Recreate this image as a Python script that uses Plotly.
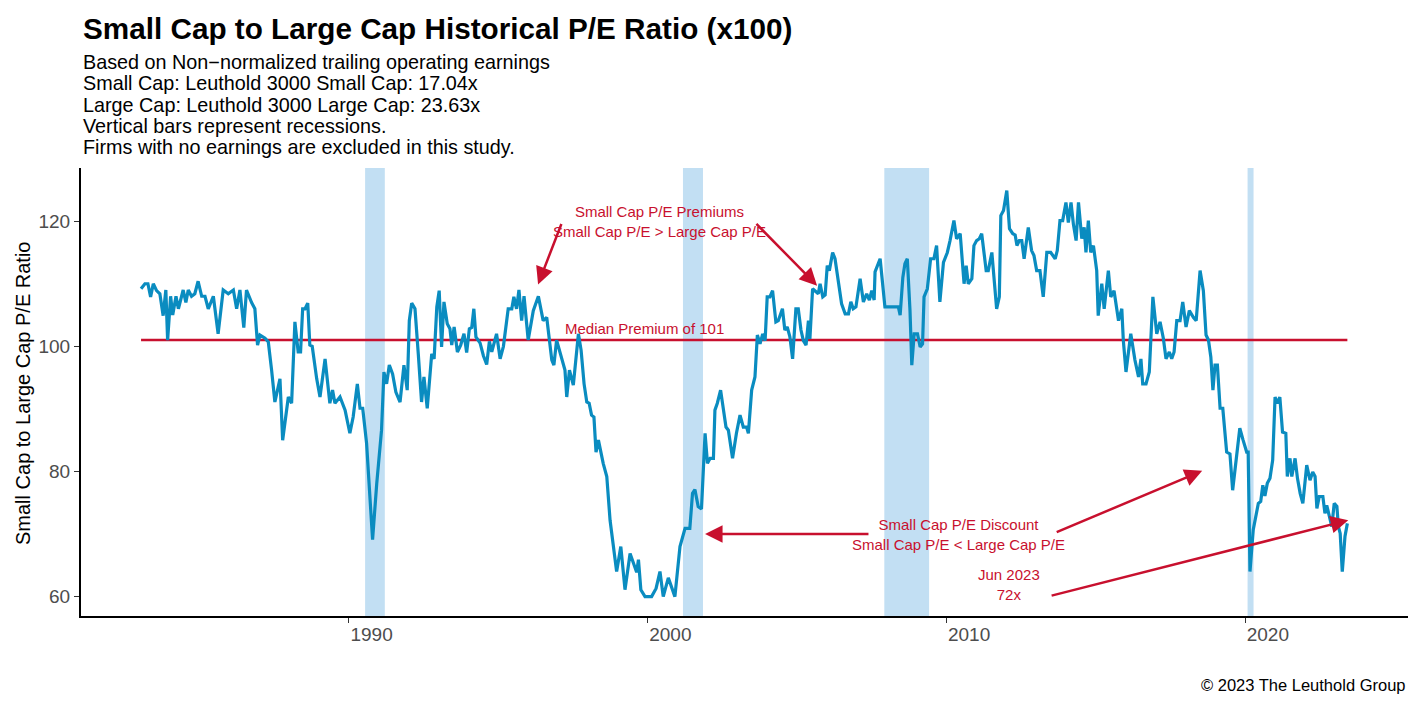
import plotly.graph_objects as go

# DATA (decimal year, ratio x100)
years = [
    1983.04, 1983.17, 1983.27, 1983.36, 1983.45, 1983.56, 1983.67, 1983.78, 1983.87, 1983.93,
    1984.03, 1984.10, 1984.21, 1984.29, 1984.45, 1984.54, 1984.62, 1984.73, 1984.84, 1984.95,
    1985.07, 1985.18, 1985.29, 1985.46, 1985.62, 1985.79, 1985.96, 1986.13, 1986.24, 1986.35,
    1986.48, 1986.57, 1986.74, 1986.85, 1986.94, 1987.02, 1987.19, 1987.30, 1987.41, 1987.52,
    1987.69, 1987.78, 1987.97, 1988.08, 1988.19, 1988.30, 1988.38, 1988.45, 1988.53, 1988.62,
    1988.69, 1988.77, 1988.92, 1989.03, 1989.20, 1989.36, 1989.45, 1989.53, 1989.70, 1989.87,
    1990.03, 1990.14, 1990.28, 1990.37, 1990.46, 1990.59, 1990.79, 1990.93, 1991.09, 1991.17,
    1991.26, 1991.35, 1991.46, 1991.57, 1991.71, 1991.84, 1991.95, 1992.02, 1992.10, 1992.21,
    1992.32, 1992.43, 1992.51, 1992.62, 1992.77, 1992.85, 1992.94, 1993.02, 1993.10, 1993.18,
    1993.29, 1993.38, 1993.44, 1993.52, 1993.63, 1993.74, 1993.85, 1993.94, 1994.03, 1994.11,
    1994.18, 1994.25, 1994.39, 1994.50, 1994.61, 1994.70, 1994.78, 1994.94, 1995.06, 1995.17,
    1995.33, 1995.45, 1995.52, 1995.61, 1995.69, 1995.78, 1995.86, 1996.00, 1996.17, 1996.34,
    1996.50, 1996.62, 1996.79, 1996.86, 1996.95, 1997.12, 1997.23, 1997.29, 1997.38, 1997.51,
    1997.68, 1997.77, 1997.87, 1997.96, 1998.04, 1998.12, 1998.20, 1998.27, 1998.35, 1998.51,
    1998.63, 1998.74, 1998.85, 1998.96, 1999.10, 1999.24, 1999.41, 1999.54, 1999.63, 1999.69,
    1999.77, 1999.91, 2000.13, 2000.28, 2000.41, 2000.52, 2000.69, 2000.91, 2001.08, 2001.25,
    2001.41, 2001.50, 2001.58, 2001.69, 2001.80, 2001.92, 2002.00, 2002.09, 2002.20, 2002.25,
    2002.33, 2002.44, 2002.53, 2002.62, 2002.70, 2002.84, 2002.97, 2003.09, 2003.20, 2003.31,
    2003.37, 2003.48, 2003.59, 2003.67, 2003.76, 2003.85, 2003.93, 2004.00, 2004.09, 2004.18,
    2004.29, 2004.37, 2004.51, 2004.59, 2004.67, 2004.76, 2004.85, 2004.96, 2005.04, 2005.13,
    2005.21, 2005.30, 2005.38, 2005.43, 2005.52, 2005.60, 2005.71, 2005.77, 2005.86, 2005.94,
    2006.01, 2006.08, 2006.19, 2006.27, 2006.38, 2006.49, 2006.61, 2006.72, 2006.80, 2006.88,
    2006.97, 2007.11, 2007.22, 2007.33, 2007.42, 2007.50, 2007.58, 2007.61, 2007.78, 2007.87,
    2007.94, 2008.11, 2008.39, 2008.45, 2008.54, 2008.61, 2008.69, 2008.78, 2008.84, 2008.92,
    2009.03, 2009.12, 2009.20, 2009.25, 2009.36, 2009.47, 2009.58, 2009.67, 2009.78, 2009.90,
    2010.03, 2010.12, 2010.25, 2010.34, 2010.46, 2010.59, 2010.66, 2010.73, 2010.85, 2010.92,
    2011.01, 2011.10, 2011.18, 2011.33, 2011.40, 2011.52, 2011.59, 2011.68, 2011.77, 2011.82,
    2011.91, 2012.02, 2012.11, 2012.22, 2012.30, 2012.36, 2012.44, 2012.52, 2012.60, 2012.74,
    2012.85, 2012.93, 2013.02, 2013.13, 2013.24, 2013.36, 2013.49, 2013.64, 2013.71, 2013.80,
    2013.89, 2014.00, 2014.08, 2014.17, 2014.25, 2014.34, 2014.42, 2014.53, 2014.61, 2014.67,
    2014.75, 2014.83, 2014.92, 2015.03, 2015.08, 2015.20, 2015.28, 2015.42, 2015.50, 2015.61,
    2015.76, 2015.87, 2015.92, 2016.01, 2016.17, 2016.31, 2016.43, 2016.51, 2016.57, 2016.68,
    2016.79, 2016.91, 2017.04, 2017.15, 2017.26, 2017.35, 2017.46, 2017.54, 2017.62, 2017.71,
    2017.82, 2017.91, 2018.02, 2018.13, 2018.27, 2018.36, 2018.49, 2018.60, 2018.69, 2018.77,
    2018.85, 2018.92, 2018.99, 2019.07, 2019.16, 2019.25, 2019.38, 2019.49, 2019.58, 2019.69,
    2019.82, 2019.93, 2020.05, 2020.10, 2020.16, 2020.27, 2020.36, 2020.44, 2020.52, 2020.59,
    2020.66, 2020.74, 2020.83, 2020.92, 2021.00, 2021.07, 2021.16, 2021.25, 2021.36, 2021.41,
    2021.50, 2021.56, 2021.67, 2021.75, 2021.84, 2021.93, 2022.06, 2022.17, 2022.26, 2022.34,
    2022.40, 2022.48, 2022.60, 2022.67, 2022.73, 2022.82, 2022.90, 2022.98, 2023.07, 2023.12,
    2023.18, 2023.25, 2023.34, 2023.42,
]
ratio = [
    109.2, 110.0, 110.0, 107.9, 110.0, 108.9, 108.4, 104.9, 109.0, 101.0,
    108.0, 105.0, 108.0, 106.0, 109.0, 107.0, 109.0, 108.0, 108.4, 110.4,
    108.0, 108.0, 106.0, 108.0, 102.0, 109.0, 108.4, 109.0, 106.0, 109.0,
    103.0, 109.0, 107.0, 106.0, 100.2, 101.8, 101.3, 100.7, 96.2, 91.1,
    94.8, 85.0, 91.9, 90.9, 103.9, 99.1, 99.1, 106.0, 106.0, 106.9,
    100.2, 100.0, 94.8, 91.9, 98.0, 90.9, 93.0, 90.9, 91.9, 89.8,
    86.1, 88.7, 94.0, 90.1, 90.1, 84.5, 69.1, 78.1, 86.6, 95.9,
    94.0, 97.0, 95.6, 92.7, 91.1, 97.0, 93.0, 104.1, 106.9, 106.0,
    98.8, 91.1, 95.1, 90.1, 98.8, 98.0, 106.3, 108.9, 99.9, 107.1,
    103.6, 102.8, 100.2, 103.1, 99.1, 100.2, 102.0, 99.0, 102.8, 103.0,
    106.0, 101.5, 100.5, 98.5, 97.1, 100.8, 99.1, 102.0, 98.0, 100.0,
    106.0, 106.0, 107.9, 106.0, 109.0, 104.1, 108.0, 101.0, 105.7, 108.0,
    104.1, 104.6, 97.8, 97.0, 101.0, 97.8, 96.2, 91.9, 96.2, 93.8,
    102.0, 99.4, 94.0, 91.1, 90.9, 89.0, 88.7, 83.1, 85.0, 81.3,
    79.2, 72.2, 68.0, 64.0, 68.0, 61.1, 66.9, 65.3, 63.9, 65.9,
    61.1, 60.0, 60.0, 61.3, 64.0, 60.0, 63.0, 60.0, 68.0, 70.9,
    70.9, 76.5, 77.1, 74.4, 74.0, 86.1, 81.3, 82.1, 82.1, 89.8,
    90.9, 93.0, 89.8, 87.1, 86.6, 82.1, 86.1, 89.0, 87.1, 87.1,
    86.1, 93.0, 95.1, 101.8, 100.4, 102.0, 100.9, 107.9, 107.9, 108.9,
    103.9, 104.1, 106.0, 102.6, 103.1, 101.5, 98.0, 106.0, 106.0, 102.6,
    100.9, 100.2, 104.1, 101.2, 109.2, 108.9, 108.4, 110.0, 107.9, 108.2,
    112.9, 112.1, 115.0, 114.0, 110.0, 106.8, 105.2, 105.2, 107.1, 106.0,
    106.3, 110.8, 107.1, 108.4, 107.4, 108.9, 107.4, 111.9, 114.0, 110.0,
    106.3, 106.3, 106.3, 105.0, 111.0, 113.2, 114.0, 105.7, 97.0, 102.0,
    102.0, 99.9, 100.4, 107.9, 109.2, 114.0, 114.0, 116.1, 107.1, 113.4,
    115.0, 116.9, 120.1, 117.2, 118.0, 110.0, 112.9, 110.0, 110.8, 116.1,
    116.9, 117.2, 118.0, 112.1, 112.1, 115.0, 110.5, 106.0, 107.9, 120.9,
    121.7, 124.9, 118.8, 118.0, 117.8, 116.1, 116.9, 116.9, 114.0, 119.0,
    115.3, 114.5, 112.1, 112.1, 107.9, 115.0, 115.0, 114.0, 115.3, 120.1,
    120.1, 123.0, 119.8, 123.0, 119.5, 116.9, 123.0, 117.2, 119.0, 115.0,
    120.1, 115.0, 116.1, 112.1, 104.9, 110.0, 106.0, 112.1, 107.9, 108.9,
    104.1, 106.0, 101.0, 95.9, 102.0, 97.8, 95.1, 98.0, 94.0, 94.0,
    95.9, 107.9, 102.0, 103.9, 101.3, 98.0, 99.1, 98.0, 99.1, 104.1,
    104.1, 107.1, 103.1, 105.7, 104.6, 104.1, 112.1, 108.9, 101.8, 101.0,
    98.3, 93.0, 97.0, 97.0, 90.1, 90.1, 83.1, 82.8, 77.0, 81.3,
    86.9, 85.0, 83.1, 83.1, 64.0, 70.7, 73.3, 74.9, 75.2, 77.8,
    76.1, 78.1, 78.9, 81.8, 91.9, 90.9, 91.9, 86.3, 86.1, 79.2,
    82.1, 79.2, 82.1, 78.9, 76.5, 74.9, 81.0, 78.6, 79.9, 79.2,
    74.1, 76.0, 76.0, 73.3, 74.6, 72.5, 71.2, 74.9, 74.4, 71.2,
    70.1, 64.0, 69.6, 71.7,
]

median_value = 101
recession_start = [1990.54, 2001.18, 2007.92, 2020.08]
recession_end = [1991.20, 2001.85, 2009.42, 2020.28]

x_ticks = [1990, 2000, 2010, 2020]
y_ticks = [60, 80, 100, 120]

subtitle_lines = [
    "Based on Non\u2212normalized trailing operating earnings",
    "Small Cap: Leuthold 3000 Small Cap: 17.04x",
    "Large Cap: Leuthold 3000 Large Cap: 23.63x",
    "Vertical bars represent recessions.",
    "Firms with no earnings are excluded in this study.",
]

BLUE = "#0a8cc0"
RED = "#c8102e"
SHADE = "#c2dff3"
FONT = "Liberation Sans, Arial, sans-serif"

fig = go.Figure()

# recession bars
for s, e in zip(recession_start, recession_end):
    fig.add_vrect(x0=s, x1=e, fillcolor=SHADE, opacity=1, line_width=0, layer="below")

# median line
fig.add_trace(go.Scatter(
    x=[years[0], years[-1]], y=[median_value, median_value],
    mode="lines", line=dict(color=RED, width=2.5), hoverinfo="skip",
))

# ratio line
fig.add_trace(go.Scatter(
    x=years, y=ratio, mode="lines",
    line=dict(color=BLUE, width=3.2),
))

# page sits 8px in (body margin); plot area spans page pixels 81..1408 x 168..616
def py(pix):
    return 1 + (168 - pix) / 448

def px(pix):
    return (pix - 81) / 1327

annos = []
annos.append(dict(
    text="<b>Small Cap to Large Cap Historical P/E Ratio (x100)</b>",
    xref="paper", yref="paper", x=0.0, y=py(29), xanchor="left", yanchor="middle",
    showarrow=False, font=dict(size=29.7, color="black", family=FONT),
))
for i, line in enumerate(subtitle_lines):
    annos.append(dict(
        text=line, xref="paper", yref="paper", x=0.0, y=py(62 + i * 21.3),
        xanchor="left", yanchor="middle", showarrow=False,
        font=dict(size=19.8, color="black", family=FONT),
    ))
annos.append(dict(
    text="\u00a9 2023 The Leuthold Group", xref="paper", yref="paper",
    x=1.0, y=py(685), xanchor="right", yanchor="middle", showarrow=False,
    font=dict(size=16.5, color="black", family=FONT),
))
# y-axis title
annos.append(dict(
    text="Small Cap to Large Cap P/E Ratio", xref="paper", yref="paper",
    x=px(23), y=py(393), xanchor="center", yanchor="middle", textangle=-90,
    showarrow=False, font=dict(size=20, color="black", family=FONT),
))

red_font = dict(size=15, color=RED, family=FONT)
annos.append(dict(
    text="Small Cap P/E Premiums<br>Small Cap P/E > Large Cap P/E",
    x=2000.4, y=119.9, showarrow=False, font=red_font,
))
annos.append(dict(
    text="Median Premium of 101", x=1999.9, y=median_value, yshift=12,
    showarrow=False, font=red_font,
))
annos.append(dict(
    text="Small Cap P/E Discount<br>Small Cap P/E < Large Cap P/E",
    x=2010.4, y=70.0, showarrow=False, font=red_font,
))
annos.append(dict(
    text="Jun 2023<br>72x", x=2012.1, y=61.9, showarrow=False, font=red_font,
))

# arrows: (tail x, tail y, head x, head y)
arrows = [
    (1997.13, 119.8, 1996.33, 109.9),
    (2003.59, 119.8, 2005.67, 109.7),
    (2007.44, 70.0, 2001.92, 70.0),
    (2013.64, 70.2, 2018.56, 80.1),
    (2013.47, 60.1, 2023.45, 72.2),
]
for tx, ty, hx, hy in arrows:
    annos.append(dict(
        x=hx, y=hy, ax=tx, ay=ty, xref="x", yref="y", axref="x", ayref="y",
        text="", showarrow=True, arrowhead=2, arrowsize=1.4, arrowwidth=2.5,
        arrowcolor=RED,
    ))

fig.update_layout(
    width=1420, height=705,
    margin=dict(l=73, r=20, t=160, b=97),
    paper_bgcolor="white", plot_bgcolor="white",
    showlegend=False,
    font=dict(family=FONT),
    annotations=annos,
)
fig.update_xaxes(
    range=[1981.03, 2025.45], tickvals=x_ticks, showgrid=False, zeroline=False,
    showline=True, linecolor="black", linewidth=2,
    ticks="outside", ticklen=5, tickcolor="#333333",
    ticklabelposition="outside right",
    tickfont=dict(size=19, color="#4d4d4d"),
)
fig.update_yaxes(
    range=[56.9, 128.5], tickvals=y_ticks, showgrid=False, zeroline=False,
    showline=True, linecolor="black", linewidth=2,
    ticks="outside", ticklen=5, tickcolor="#333333",
    tickfont=dict(size=19, color="#4d4d4d"),
)

fig.write_html("out.html")
